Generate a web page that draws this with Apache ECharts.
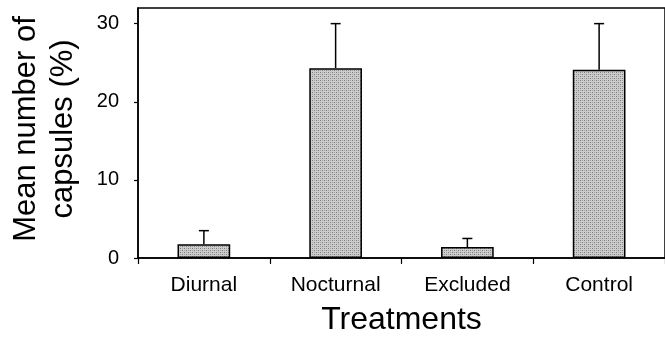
<!DOCTYPE html>
<html>
<head>
<meta charset="utf-8">
<script src="https://cdn.jsdelivr.net/npm/echarts@6/dist/echarts.min.js"></script>
<style>
  html, body { margin: 0; padding: 0; background: #fff; }
  #chart { width: 665px; height: 341px; }
</style>
</head>
<body>
<div id="chart"></div>
<script>
// values
const categories = ['Diurnal', 'Nocturnal', 'Excluded', 'Control']
const means = [1.75, 24.3, 1.4, 24.1]
const errors = [1.75, 5.7, 1.1, 5.9]
const yTicks = [0, 10, 20, 30]

const FONT = 'Liberation Sans'

// stippled grey fill like the scanned bars
function stipple () {
  let c = document.createElement('canvas')
  c.width = 4
  c.height = 4
  let ctx = c.getContext('2d')
  ctx.fillStyle = '#cdcdcd'
  ctx.fillRect(0, 0, 4, 4)
  ctx.fillStyle = '#7a7a7a'
  ctx.fillRect(0, 0, 1, 1)
  ctx.fillRect(2, 2, 1, 1)
  ctx.fillStyle = '#a4a4a4'
  ctx.fillRect(2, 0, 1, 1)
  ctx.fillRect(0, 2, 1, 1)
  return c
}

let chart = echarts.init(document.getElementById('chart'), null, { renderer: 'canvas' })
chart.setOption({
  animation: false,
  backgroundColor: '#fff',
  grid: {
    left: 133,
    top: 8,
    width: 535,
    height: 251,
    show: true,
    borderColor: '#000',
    borderWidth: 1.5,
    backgroundColor: 'transparent'
  },
  xAxis: {
    type: 'category',
    data: categories,
    name: 'Treatments',
    nameLocation: 'middle',
    nameGap: 46,
    nameTextStyle: { fontFamily: FONT, fontSize: 32, color: '#000' },
    axisLine: { lineStyle: { color: '#000', width: 1.5 } },
    axisTick: { show: true, length: 6, lineStyle: { color: '#000', width: 1.2 } },
    axisLabel: { fontFamily: FONT, fontSize: 21, color: '#000', margin: 17 },
    splitLine: { show: false }
  },
  yAxis: {
    type: 'value',
    min: yTicks[0],
    max: 32,
    interval: 10,
    name: 'Mean number of\ncapsules (%)',
    nameLocation: 'middle',
    nameGap: 56,
    nameTextStyle: { fontFamily: FONT, fontSize: 31, color: '#000', lineHeight: 37, padding: [0, 0, 0, 8] },
    axisLine: { show: true, lineStyle: { color: '#000', width: 1.5 } },
    axisTick: { show: true, length: 4, lineStyle: { color: '#000', width: 1.2 } },
    axisLabel: { fontFamily: FONT, fontSize: 20, color: '#000', margin: 19, showMaxLabel: false },
    splitLine: { show: false }
  },
  series: [
    {
      type: 'bar',
      data: means,
      barWidth: '40%',
      itemStyle: {
        color: { image: stipple(), repeat: 'repeat' },
        borderColor: '#000',
        borderWidth: 1.5
      },
      z: 2
    },
    {
      type: 'custom',
      data: means.map((m, i) => [i, m, m + errors[i]]),
      renderItem: (params, api) => {
        let base = api.coord([api.value(0), api.value(1)])
        let top = api.coord([api.value(0), api.value(2)])
        let style = { stroke: '#000', lineWidth: 1.5 }
        return {
          type: 'group',
          children: [
            { type: 'line', shape: { x1: base[0], y1: base[1], x2: top[0], y2: top[1] }, style },
            { type: 'line', shape: { x1: top[0] - 5, y1: top[1], x2: top[0] + 5, y2: top[1] }, style }
          ]
        }
      },
      z: 3
    }
  ]
})
</script>
</body>
</html>
